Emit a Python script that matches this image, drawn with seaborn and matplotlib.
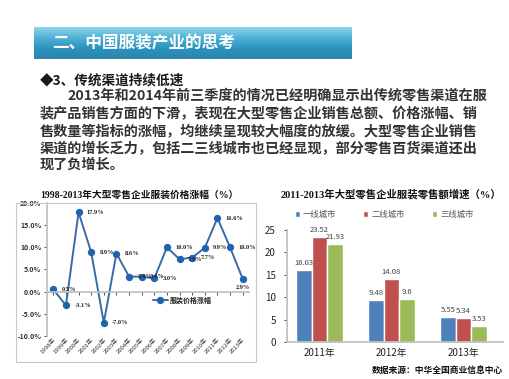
import numpy as np
import pandas as pd
import matplotlib
matplotlib.use("Agg")
import matplotlib.pyplot as plt
from matplotlib.colors import LinearSegmentedColormap
from matplotlib.patches import Rectangle
import seaborn as sns

# ---- data ----
years = ["1998年", "1999年", "2000年", "2001年", "2002年", "2003年", "2004年", "2005年",
         "2006年", "2007年", "2008年", "2009年", "2010年", "2011年", "2012年", "2013年"]
price_growth = [0.5, -3.1, 17.9, 8.9, -7.0, 8.6, 3.4, 3.4, 3.0, 10.0, 7.3, 7.7, 9.9, 16.6, 10.0, 2.9]
price_series = "服装价格涨幅"

bar_years = ["2011年", "2012年", "2013年"]
cities = ["一线城市", "二线城市", "三线城市"]
tier1 = [16.03, 9.48, 5.55]
tier2 = [23.52, 14.08, 5.34]
tier3 = [21.93, 9.6, 3.53]

header = "二、中国服装产业的思考"
subhead = "◆3、传统渠道持续低速"
para_lines = [
    "2013年和2014年前三季度的情况已经明确显示出传统零售渠道在服",
    "装产品销售方面的下滑，表现在大型零售企业销售总额、价格涨幅、销",
    "售数量等指标的涨幅，均继续呈现较大幅度的放缓。大型零售企业销售",
    "渠道的增长乏力，包括二三线城市也已经显现，部分零售百货渠道还出",
    "现了负增长。",
]
left_title = "1998-2013年大型零售企业服装价格涨幅（%）"
right_title = "2011-2013年大型零售企业服装零售额增速（%）"
source = "数据来源：中华全国商业信息中心"

# ---- setup ----
sns.set_theme(style="white")
CJK = ["Noto Sans CJK SC", "DejaVu Sans"]
SERIF = ["Liberation Serif", "Noto Sans CJK SC"]
plt.rcParams["font.family"] = CJK

W, H = 510, 379
fig = plt.figure(figsize=(W / 100, H / 100), dpi=100)
fig.patch.set_facecolor("white")


def px_axes(x0, y0, x1, y1):
    return fig.add_axes([x0 / W, 1 - y1 / H, (x1 - x0) / W, (y1 - y0) / H])


def fx(x):
    return x / W


def fy(y):
    return 1 - y / H


# header bar
hax = px_axes(34, 27, 352, 59)
grad = np.linspace(0, 1, 64).reshape(-1, 1)
cmap = LinearSegmentedColormap.from_list("hdr", ["#8fd3ea", "#4fb2d6", "#2c93bd", "#2a86ad"])
hax.imshow(grad, aspect="auto", cmap=cmap, extent=[0, 1, 0, 1])
hax.axis("off")
fig.text(fx(52), fy(43), header, color="white", fontsize=12, fontweight="bold",
         va="center", ha="left", family=CJK)

# text block
fig.text(fx(40), fy(80), subhead, color="#1a1a1a", fontsize=9.8, fontweight="bold",
         va="center", ha="left", family=CJK)
line_y = [96, 114, 132, 149, 165]
for i, (ln, yy) in enumerate(zip(para_lines, line_y)):
    x0 = 67 if i == 0 else 40
    fig.text(fx(x0), fy(yy), ln, color="#333333", fontsize=10.2, fontweight="bold",
             va="center", ha="left", family=CJK)

# ---- left chart: line ----
fig.patches.append(Rectangle((fx(16), fy(362)), fx(256) - fx(16), fy(203) - fy(362),
                             transform=fig.transFigure, fill=False, edgecolor="#c8c8c8", lw=0.8))
fig.text(fx(139), fy(195), left_title, fontsize=7, fontweight="bold", ha="center",
         va="center", family=SERIF, color="#111111")

ax1 = px_axes(47, 203, 249, 336)
df_line = pd.DataFrame({"pos": np.arange(len(years)), "value": price_growth})
sns.lineplot(data=df_line, x="pos", y="value", ax=ax1, color="#3a6ba8", lw=1.4,
             marker="o", markersize=4.5, markerfacecolor="#1f62b0",
             markeredgecolor="#1f62b0", label=price_series)
ax1.spines["top"].set_visible(False)
ax1.spines["right"].set_visible(False)
ax1.spines["left"].set_color("#bfbfbf")
ax1.spines["bottom"].set_color("#bfbfbf")
ax1.spines["bottom"].set_position(("data", 0))
ax1.set_xlim(-0.5, 15.5)
ax1.set_ylim(-10, 20)
ax1.set_yticks([-10, -5, 0, 5, 10, 15, 20])
ax1.set_yticklabels([f"{v:.1f}%" for v in [-10, -5, 0, 5, 10, 15, 20]])
ax1.set_xticks(np.arange(len(years)))
ax1.set_xticklabels(years)
ax1.tick_params(axis="y", labelsize=5, colors="#333333", length=2, width=0.6, pad=2, left=True)
ax1.tick_params(axis="x", labelsize=4.3, colors="#333333", length=2, width=0.6, pad=31, bottom=True)
for lab in ax1.get_xticklabels():
    lab.set_rotation(45)
    lab.set_ha("right")
    lab.set_va("top")
    lab.set_rotation_mode("anchor")
for lab in ax1.get_yticklabels():
    lab.set_fontweight("bold")
ax1.set_xlabel("")
ax1.set_ylabel("")
ax1.patch.set_alpha(0)
for i, v in enumerate(price_growth):
    off = (0, -6) if i == len(price_growth) - 1 else (6, 0)
    ha = "center" if i == len(price_growth) - 1 else "left"
    ax1.annotate(f"{v:.1f}%", (i, v), xytext=off, textcoords="offset points",
                 fontsize=4.6, fontweight="bold", color="#222222", ha=ha, va="center",
                 family=SERIF)
leg1 = ax1.legend(loc="center", bbox_to_anchor=(0.67, 0.27), frameon=False,
                  fontsize=5, handlelength=2.2, handletextpad=0.3)
for t in leg1.get_texts():
    t.set_fontweight("bold")
    t.set_color("#222222")

# ---- right chart: bars ----
df_bar = pd.DataFrame({
    "year": bar_years * 3,
    "city": [cities[0]] * 3 + [cities[1]] * 3 + [cities[2]] * 3,
    "value": tier1 + tier2 + tier3,
})
fig.text(fx(391), fy(194), right_title, fontsize=7.5, fontweight="bold", ha="center",
         va="center", family=SERIF, color="#111111")

ax2 = px_axes(287, 230, 503, 342)
sns.barplot(data=df_bar, x="year", y="value", hue="city", order=bar_years,
            hue_order=cities, palette=["#4f81bd", "#c0504d", "#9bbb59"],
            width=0.65, ax=ax2, saturation=1)
ax2.set_xlim(-0.45, 2.55)
ax2.set_ylim(0, 25)
ax2.set_yticks([0, 5, 10, 15, 20, 25])
ax2.tick_params(axis="y", labelsize=7, colors="#222222", length=2, width=0.6, pad=6, left=True)
ax2.tick_params(axis="x", labelsize=7, colors="#222222", length=0, pad=4)
for c in ax2.containers:
    ax2.bar_label(c, fmt="%g", fontsize=5.5, color="#444444", padding=2)
ax2.spines["top"].set_visible(False)
ax2.spines["right"].set_visible(False)
ax2.spines["left"].set_color("#bfbfbf")
ax2.spines["bottom"].set_color("#bfbfbf")
ax2.set_xlabel("")
ax2.set_ylabel("")
ax2.patch.set_alpha(0)
leg2 = ax2.legend(loc="center", bbox_to_anchor=(0.45, 1.14), ncol=3, frameon=False,
                  fontsize=6, handlelength=0.6, handleheight=0.6, handletextpad=0.4,
                  columnspacing=3.2)
for t in leg2.get_texts():
    t.set_color("#555555")

fig.text(fx(503), fy(370), source, fontsize=6.3, fontweight="bold", ha="right",
         va="center", family=CJK, color="#111111")

fig.savefig("out.png", dpi=100)
